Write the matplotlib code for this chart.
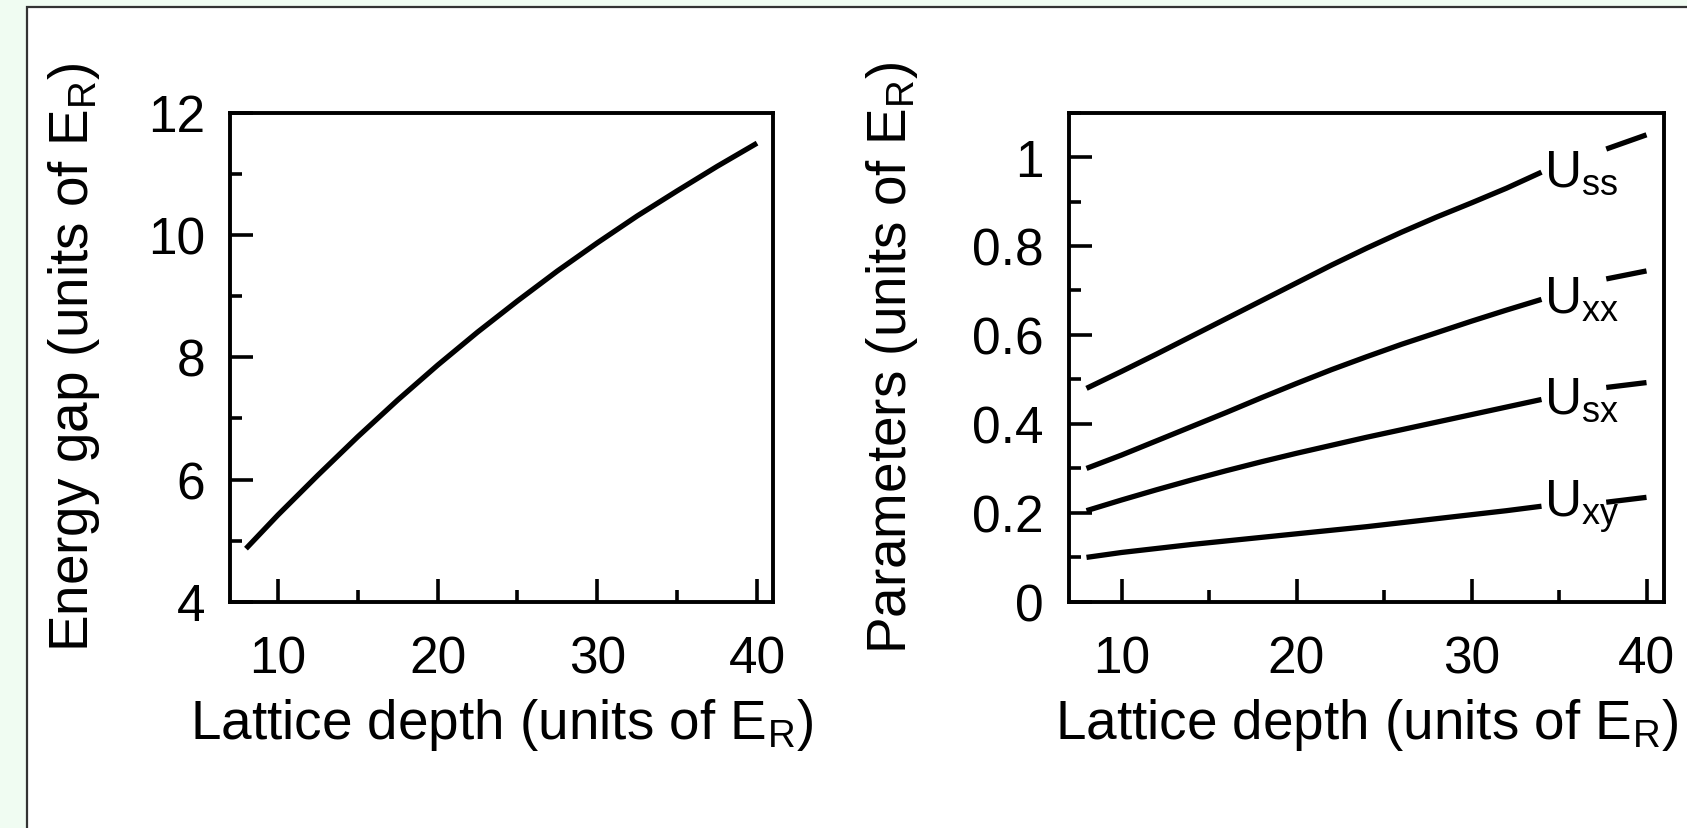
#!/usr/bin/env python3

import matplotlib
matplotlib.use("Agg")
import matplotlib.pyplot as plt
from matplotlib.patches import Rectangle
from matplotlib.ticker import MultipleLocator, FormatStrFormatter

plt.rcParams['font.family'] = ['Liberation Sans', 'DejaVu Sans']
plt.rcParams['mathtext.fontset'] = 'custom'
plt.rcParams['mathtext.rm'] = 'Liberation Sans'
plt.rcParams['mathtext.it'] = 'Liberation Sans'

# Left panel: energy gap vs lattice depth
depth_gap = [8, 10, 12.5, 15, 17.5, 20, 22.5, 25, 27.5, 30, 32.5, 35, 37.5, 40]
energy_gap = [4.87, 5.42, 6.07, 6.70, 7.30, 7.87, 8.41, 8.92, 9.41, 9.87,
              10.31, 10.72, 11.12, 11.50]

# Right panel: interaction parameters (curve up to label, then short tail after label)
depth_u = [8, 10, 12, 14, 16, 18, 20, 22, 24, 26, 28, 30, 32, 34]
u_ss = [0.480, 0.518, 0.557, 0.597, 0.637, 0.677, 0.717, 0.757, 0.795, 0.831,
        0.865, 0.897, 0.930, 0.966]
u_xx = [0.300, 0.330, 0.362, 0.394, 0.426, 0.459, 0.491, 0.522, 0.551, 0.579,
        0.605, 0.631, 0.656, 0.680]
u_sx = [0.205, 0.229, 0.252, 0.274, 0.295, 0.315, 0.334, 0.352, 0.370, 0.387,
        0.404, 0.421, 0.438, 0.455]
u_xy = [0.100, 0.111, 0.120, 0.129, 0.137, 0.145, 0.153, 0.161, 0.169, 0.178,
        0.187, 0.196, 0.205, 0.215]

depth_tail = [37.7, 40]
u_ss_tail = [1.018, 1.050]
u_xx_tail = [0.726, 0.744]
u_sx_tail = [0.482, 0.493]
u_xy_tail = [0.224, 0.235]

labels = [r'U$_\mathrm{ss}$', r'U$_\mathrm{xx}$', r'U$_\mathrm{sx}$', r'U$_\mathrm{xy}$']

tick_fs = 37
label_fs = 39.5
lw = 3.8

fig = plt.figure(figsize=(16.87, 8.285), dpi=100)
fig.patch.set_facecolor('#f0fcf2')
# white panel with dark frame, clipped at the right and bottom edges
fig.patches.append(Rectangle((27 / 1687, -0.2), 1.2, 1.2 - 7 / 828,
                             transform=fig.transFigure, facecolor='white',
                             edgecolor='#333333', linewidth=1.6, zorder=-10))


def style(ax):
    for s in ax.spines.values():
        s.set_linewidth(2.8)
    ax.tick_params(which='both', direction='in', top=False, right=False,
                   labelsize=tick_fs, width=2.6)
    ax.tick_params(which='major', length=16.5)
    ax.tick_params(which='minor', length=8.5)
    ax.tick_params(axis='y', pad=18)
    ax.tick_params(axis='x', pad=24)
    ax.set_facecolor('none')
    ax.set_zorder(5)


ax1 = fig.add_axes([230 / 1687, 1 - 602 / 828, 543 / 1687, 489 / 828])
ax1.plot(depth_gap, energy_gap, color='black', lw=lw, solid_capstyle='butt')
ax1.set_xlim(7, 41)
ax1.set_ylim(4, 12)
ax1.xaxis.set_major_locator(MultipleLocator(10))
ax1.xaxis.set_minor_locator(MultipleLocator(5))
ax1.yaxis.set_major_locator(MultipleLocator(2))
ax1.yaxis.set_minor_locator(MultipleLocator(1))
style(ax1)
ax1.set_xlabel(r'Lattice depth (units of E$_\mathrm{R}$)', fontsize=label_fs, labelpad=9)
ax1.set_ylabel(r'Energy gap (units of E$_\mathrm{R}$)', fontsize=label_fs, labelpad=33)

ax2 = fig.add_axes([1069 / 1687, 1 - 602 / 828, 595 / 1687, 489 / 828])
curves = [u_ss, u_xx, u_sx, u_xy]
tails = [u_ss_tail, u_xx_tail, u_sx_tail, u_xy_tail]
for y, yt, lab in zip(curves, tails, labels):
    ax2.plot(depth_u, y, color='black', lw=lw, solid_capstyle='butt')
    ax2.plot(depth_tail, yt, color='black', lw=lw, solid_capstyle='butt')
    ax2.annotate(lab, xy=(depth_u[-1], y[-1]), xytext=(2, 0),
                 textcoords='offset points', va='center', ha='left',
                 fontsize=tick_fs)
ax2.set_xlim(7, 41)
ax2.set_ylim(0, 1.1)
ax2.xaxis.set_major_locator(MultipleLocator(10))
ax2.xaxis.set_minor_locator(MultipleLocator(5))
ax2.yaxis.set_major_locator(MultipleLocator(0.2))
ax2.yaxis.set_minor_locator(MultipleLocator(0.1))
ax2.yaxis.set_major_formatter(FormatStrFormatter('%g'))
style(ax2)
ax2.set_xlabel(r'Lattice depth (units of E$_\mathrm{R}$)', fontsize=label_fs, labelpad=9)
ax2.set_ylabel(r'Parameters (units of E$_\mathrm{R}$)', fontsize=label_fs, labelpad=38)

fig.savefig('out.png', dpi=100, facecolor=fig.get_facecolor())
